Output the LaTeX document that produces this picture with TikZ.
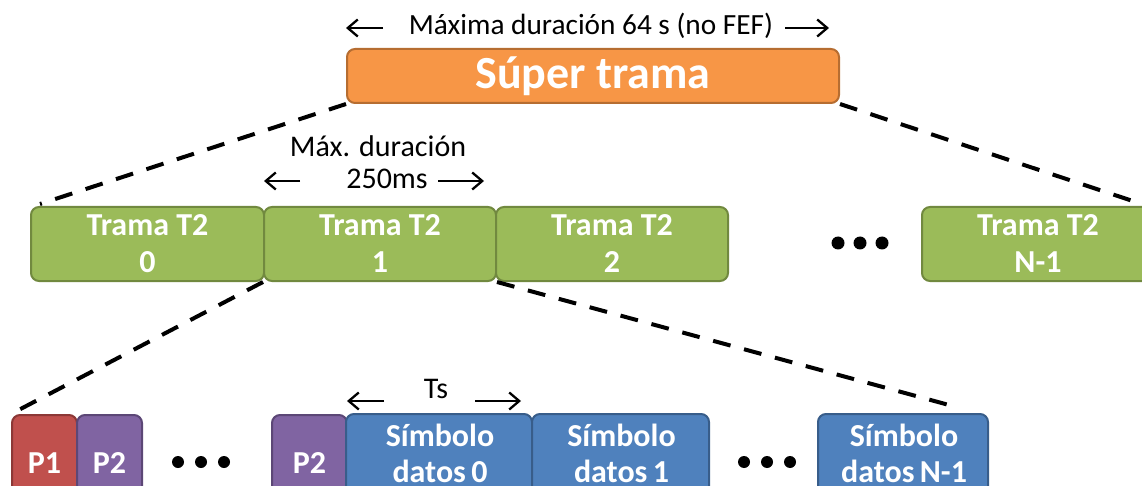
\documentclass[tikz,border=0pt]{standalone}
\usepackage{fontspec}
\setmainfont{Carlito}
\usetikzlibrary{arrows.meta}
\definecolor{orF}{HTML}{F79646}\definecolor{orD}{HTML}{B66D31}
\definecolor{grF}{HTML}{9BBB59}\definecolor{grD}{HTML}{71893F}
\definecolor{rdF}{HTML}{C0504D}\definecolor{rdD}{HTML}{8C3836}
\definecolor{puF}{HTML}{8064A2}\definecolor{puD}{HTML}{5C4776}
\definecolor{blF}{HTML}{4F81BD}\definecolor{blD}{HTML}{385D8A}
\tikzset{
  boxbase/.style={rectangle, rounded corners=8pt, line width=2pt, inner sep=0pt,
    anchor=north west, text=white, align=center, font=\fontsize{32}{37}\selectfont\bfseries},
  superbox/.style={boxbase, fill=orF, draw=orD, font=\fontsize{46}{50}\selectfont\bfseries},
  tramabox/.style={boxbase, fill=grF, draw=grD, minimum height=74pt},
  pRbox/.style={boxbase, fill=rdF, draw=rdD, minimum height=96pt},
  pPbox/.style={boxbase, fill=puF, draw=puD, minimum height=96pt},
  symbox/.style={boxbase, fill=blF, draw=blD, minimum height=76pt, font=\fontsize{32}{36}\selectfont\bfseries},
  lbl/.style={inner sep=0pt, text=black, font=\fontsize{30}{36}\selectfont},
  dashln/.style={line width=4pt, dash pattern=on 18pt off 14pt},
  arr/.style={line width=2.3pt, -{Straight Barb[length=10pt,width=17pt,line width=2.3pt]}},
}
\begin{document}
\begin{tikzpicture}[x=1pt,y=-1pt]
\useasboundingbox (0,0) rectangle (1142,486);
\clip (0,0) rectangle (1142,486);
% super frame
\node[superbox, minimum width=492pt, minimum height=54pt] (st) at (346,48) {Súper trama};
% T2 frames
\node[tramabox, minimum width=233pt] (t0) at (30,206) {Trama T2\\0};
\node[tramabox, minimum width=232pt] (t1) at (263,206) {Trama T2\\1};
\node[tramabox, minimum width=232pt] (t2) at (495,206) {Trama T2\\2};
\node[tramabox, minimum width=232pt] (tn) at (921,206) {Trama T2\\N-1};
\fill (838,243) circle (6.5pt) (860,243) circle (6.5pt) (882,243) circle (6.5pt);
% symbols
\node[pRbox, minimum width=65pt] (p1) at (11,414) {P1};
\node[pPbox, minimum width=65pt] (p2) at (76,414) {P2};
\fill (178,462) circle (6pt) (201,462) circle (6pt) (224,462) circle (6pt);
\node[pPbox, minimum width=75pt] (p2b) at (271,414) {P2};
\path[draw=blD, fill=blF, line width=2pt, rounded corners=8pt] (346,414) rectangle (532,500);
\path[draw=blD, fill=blF, line width=2pt, rounded corners=8pt] (532,414) rectangle (709,500);
\path[draw=blD, fill=blF, line width=2pt, rounded corners=8pt] (818,414) rectangle (988,500);
\node[symbox, draw=none, fill=none, minimum width=186pt] (s0) at (346,414) {Símbolo\\datos\,0};
\node[symbox, draw=none, fill=none, minimum width=177pt] (s1) at (532,414) {Símbolo\\datos\,1};
\fill (744,462) circle (6pt) (767,462) circle (6pt) (790,462) circle (6pt);
\node[symbox, draw=none, fill=none, minimum width=170pt] (sn) at (818,414) {Símbolo\\datos\,N-1};
% dashed connectors
\coordinate (stR) at (1175,215);
\coordinate (snT) at (960,408);
\coordinate (t0T) at (40,204);
\draw[dashln] (st.south west) -- (t0T);
\draw[dashln] (st.south east) -- (stR);
\draw[dashln] (t1.south west) -- (p1.north west);
\draw[dashln] (t1.south east) -- (snT);
% labels and arrows
\node[lbl, font=\fontsize{29.3}{36}\selectfont] (lmax) at (591,26) {Máxima duración 64 s (no FEF)};
\coordinate (a1s) at (383,28); \coordinate (a1e) at (346,28);
\coordinate (a2s) at (785,28); \coordinate (a2e) at (829,28);
\draw[arr] (a1s) -- (a1e);
\draw[arr] (a2s) -- (a2e);
\node[lbl] (lmd) at (378,146) {Máx. duración};
\node[lbl] (l250) at (387,179) {250ms};
\coordinate (b1s) at (300,181); \coordinate (b1e) at (264,181);
\coordinate (b2s) at (438,181); \coordinate (b2e) at (484,181);
\draw[arr] (b1s) -- (b1e);
\draw[arr] (b2s) -- (b2e);
\node[lbl] (lts) at (436,389) {Ts};
\coordinate (c1s) at (384,401); \coordinate (c1e) at (347,401);
\coordinate (c2s) at (475,401); \coordinate (c2e) at (521,401);
\draw[arr] (c1s) -- (c1e);
\draw[arr] (c2s) -- (c2e);
\end{tikzpicture}
\end{document}
